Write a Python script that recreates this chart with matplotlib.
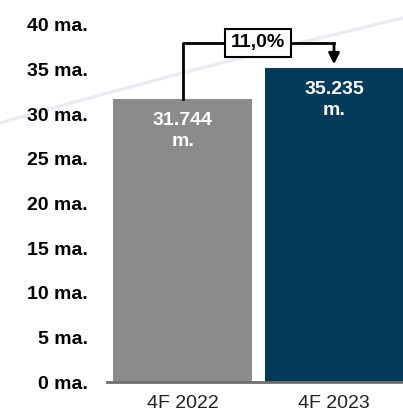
import numpy as np
import matplotlib
matplotlib.use("Agg")
import matplotlib.pyplot as plt

# data
periods = ["4F 2022", "4F 2023"]
values = [31.744, 35.235]
value_labels = ["31.744\nm.", "35.235\nm."]
yticks = [0, 5, 10, 15, 20, 25, 30, 35, 40]
ytick_labels = ["%d ma." % v for v in yticks]
change_label = "11,0%"

plt.rcParams['font.family'] = ['Liberation Sans', 'DejaVu Sans']

fig = plt.figure(figsize=(4.03, 4.15), dpi=100)
# faint decorative swoosh in the background
sx = np.linspace(0, 1, 50)
sy = 1 - (123 - 115 * sx + 10 * sx ** 2) / 415
fig.add_artist(plt.Line2D(sx, sy, color='#e9edf2', lw=2.5, transform=fig.transFigure, zorder=0))

ax = fig.add_axes([107 / 403, 1 - 382 / 415, 1 - 107 / 403, (382 - 25) / 415])
ax.patch.set_alpha(0)
x = np.arange(len(values))
colors = ['#8a8c8c', '#033a5a']
ax.bar(x, values, width=0.917, color=colors, zorder=2)
ax.set_xlim(-0.5, 1.456)
ax.set_ylim(0, 40)

for s in ['top', 'right', 'left']:
    ax.spines[s].set_visible(False)
ax.spines['bottom'].set_color('#6e6e6e')
ax.spines['bottom'].set_linewidth(2)
ax.spines['bottom'].set_zorder(3)

ax.set_yticks(yticks)
ax.set_yticklabels(ytick_labels, fontsize=14, fontweight='bold')
ax.tick_params(axis='y', length=0, pad=14)
ax.set_xticks(x)
ax.set_xticklabels(periods, fontsize=14)
ax.tick_params(axis='x', length=0, pad=9, colors='#222222')

for xi, v, lab in zip(x, values, value_labels):
    ax.text(xi, v - 1.5, lab, ha='center', va='top', color='white',
            fontsize=14, fontweight='bold', linespacing=1.3)

# change arrow
top = 38.0
ax.plot([x[0], x[0], x[1], x[1]], [values[0], top, top, top], color='black', lw=2, zorder=4)
ax.annotate('', xy=(x[1], values[1] + 0.05), xytext=(x[1], top + 0.1),
            arrowprops=dict(arrowstyle='-|>', color='black', lw=2, mutation_scale=16), zorder=4)
ax.text((x[0] + x[1]) / 2, top, change_label, ha='center', va='center', fontsize=14,
        fontweight='bold', zorder=5,
        bbox=dict(boxstyle='square,pad=0.3', fc='white', ec='black', lw=1.5))

fig.savefig('out.png', dpi=100)
